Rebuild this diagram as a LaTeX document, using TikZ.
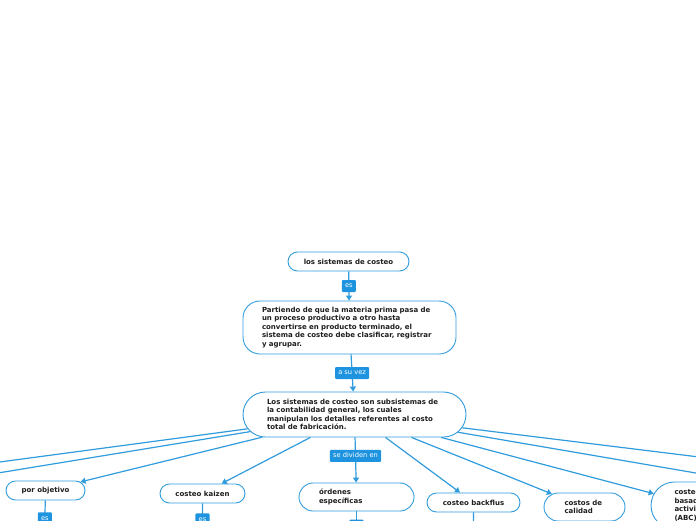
\documentclass[tikz,border=0pt]{standalone}
\usepackage{fontspec}
\setmainfont{DejaVu Sans}
\usetikzlibrary{arrows.meta,shapes.misc}
\definecolor{lblue}{RGB}{48,156,222}
\definecolor{labblue}{RGB}{30,148,224}
\definecolor{ink}{RGB}{30,30,30}
\begin{document}
\begin{tikzpicture}[x=1pt,y=-1pt,
  boxfont/.style={font=\fontsize{7}{8.5}\selectfont\bfseries},
  pill/.style={rounded rectangle, draw=lblue, line width=0.9pt, fill=white, text=ink, inner sep=0pt, boxfont, align=left},
  rbox/.style={rectangle, rounded corners=17pt, draw=lblue, line width=0.9pt, fill=white, text=ink, inner sep=0pt, boxfont, align=left},
  conn/.style={draw=lblue, line width=1.2pt, -{Triangle[length=5pt,width=6pt]}},
  lab/.style={fill=labblue, text=white, font=\fontsize{6.7}{8}\selectfont, inner xsep=3.2pt, inner ysep=0pt, minimum height=12pt, text height=5pt, text depth=1.2pt, rounded corners=1pt}]
\useasboundingbox (0,0) rectangle (696,520);
\clip (0,0) rectangle (696,520);
\fill[white] (0,0) rectangle (696,520);

% nodes
\node[pill, minimum width=121pt, minimum height=19pt] (b1) at (348.5,261.5) {los sistemas de costeo};
\node[rbox, minimum width=213pt, minimum height=53pt, text width=175pt] (b2) at (349.5,327.5)
  {Partiendo de que la materia prima pasa de\\un proceso productivo a otro hasta\\convertirse en producto terminado, el\\sistema de costeo debe clasificar, registrar\\y agrupar.};
\node[pill, minimum width=223pt, minimum height=45pt, text width=175pt] (b3) at (354.5,414.5)
  {Los sistemas de costeo son subsistemas de\\la contabilidad general, los cuales\\manipulan los detalles referentes al costo\\total de fabricación.};
\node[pill, minimum width=79pt, minimum height=19pt] (porobj) at (45.5,490.5) {por objetivo};
\node[pill, minimum width=85pt, minimum height=19pt] (kaizen) at (202.5,493.5) {costeo kaizen};
\node[pill, minimum width=115pt, minimum height=28pt, text width=75pt] (ord) at (356.5,497) {órdenes\\específicas};
\node[pill, minimum width=93pt, minimum height=19pt] (backflus) at (473.5,502.5) {costeo backflus};
\node[pill, minimum width=81pt, minimum height=28pt, text width=40pt] (calidad) at (584.5,507) {costos de\\calidad};
\node[pill, minimum width=95pt, minimum height=47pt, text width=48pt] (abc) at (698.5,505.5) {costeo\\basado en\\actividades\\(ABC)};

% free ends of connectors that leave the picture
\coordinate (l1) at (-60,470);
\coordinate (l2) at (-60,482.5);
\coordinate (r1) at (760,464.5);
\coordinate (r2) at (760,484);
\coordinate (pe) at (44,560);
\coordinate (ke) at (202.5,560);
\coordinate (oe) at (356.5,560);
\coordinate (be) at (473.5,560);

% connectors
\draw[conn] (b1) -- node[lab]{es} (b2);
\draw[conn] (b2) -- node[lab]{a su vez} (b3);
\draw[conn] (b3) -- node[lab, pos=0.41]{se dividen en} (ord);
\draw[conn] (b3) -- (l1);
\draw[conn] (b3) -- (l2);
\draw[conn] (b3) -- (porobj);
\draw[conn] (b3) -- (kaizen);
\draw[conn] (b3) -- (backflus);
\draw[conn] (b3) -- (calidad);
\draw[conn] (b3) -- (abc);
\draw[conn] (b3) -- (r1);
\draw[conn] (b3) -- (r2);
\draw[conn] (porobj) -- node[lab, pos=0.3]{es} (pe);
\draw[conn] (kaizen) -- node[lab, pos=0.28]{es} (ke);
\draw[conn] (ord) -- node[lab, pos=0.29]{es} (oe);
\draw[conn] (backflus) -- (be);
\end{tikzpicture}
\end{document}
